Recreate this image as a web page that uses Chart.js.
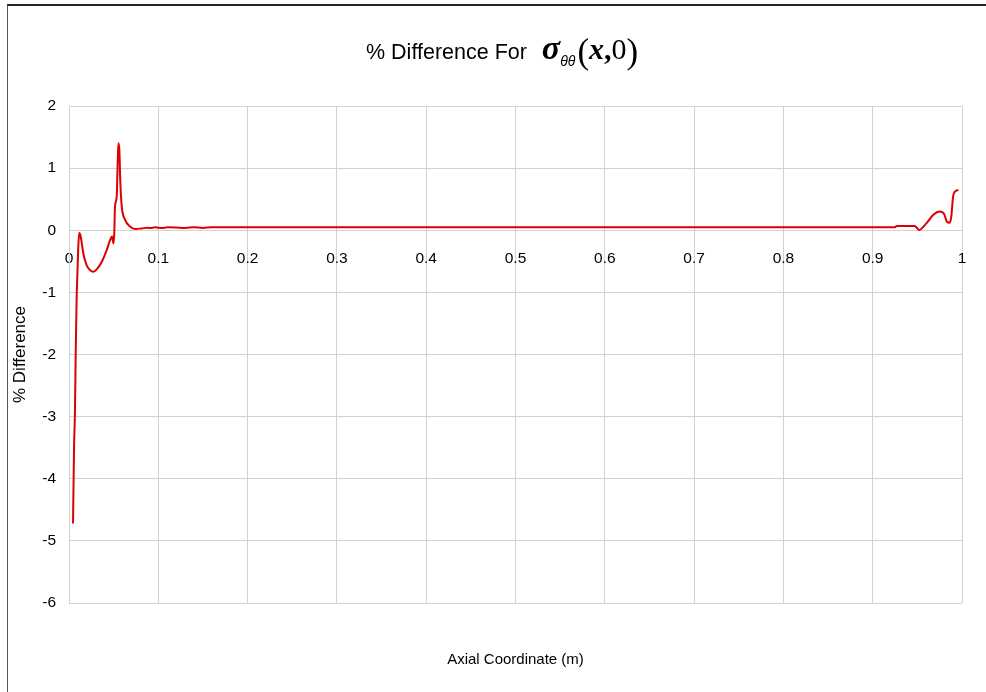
<!DOCTYPE html>
<html>
<head>
<meta charset="utf-8">
<script src="https://cdn.jsdelivr.net/npm/chart.js@4.4.1/dist/chart.umd.min.js"></script>
<style>
  html, body { margin: 0; padding: 0; background: #fff; }
  #wrap { position: relative; width: 986px; height: 692px; }
  #frame { position: absolute; left: 7px; top: 4px; right: 0; bottom: 0;
           border-left: 1px solid #555; border-top: 2px solid #222; pointer-events: none; }
</style>
</head>
<body>
<div id="wrap">
  <canvas id="diffChart" width="986" height="692"></canvas>
  <div id="frame"></div>
</div>
<script>
// % difference along the axial coordinate
var axialX = [0.0045, 0.0056, 0.0067, 0.0075, 0.0086, 0.0093, 0.0104, 0.0115, 0.0131, 0.016,
              0.0197, 0.0235, 0.0272, 0.031, 0.0366, 0.0422, 0.046, 0.0482, 0.0497, 0.0507,
              0.0515, 0.0534, 0.0545, 0.0553, 0.0564, 0.0575, 0.0591, 0.0627, 0.0683, 0.074,
              0.0814, 0.088, 0.092, 0.096, 0.10, 0.105, 0.11, 0.12, 0.13, 0.14,
              0.15, 0.16, 0.2, 0.3, 0.4, 0.5, 0.6, 0.7, 0.8, 0.9,
              0.925, 0.927, 0.947, 0.952, 0.96, 0.968, 0.975, 0.98, 0.983, 0.986,
              0.988, 0.99, 0.992, 0.996];
var pctDiff = [-4.72, -3.54, -2.89, -1.98, -1.07, -0.75, -0.26, -0.04, -0.10, -0.37,
               -0.56, -0.64, -0.67, -0.63, -0.51, -0.32, -0.16, -0.10, -0.21, -0.05,
               0.38, 0.54, 1.08, 1.40, 1.29, 0.76, 0.38, 0.17, 0.06, 0.02,
               0.03, 0.04, 0.035, 0.05, 0.04, 0.035, 0.05, 0.045, 0.035, 0.05,
               0.035, 0.05, 0.05, 0.05, 0.05, 0.05, 0.05, 0.05, 0.05, 0.05,
               0.05, 0.07, 0.07, 0.005, 0.11, 0.25, 0.30, 0.26, 0.14, 0.12,
               0.22, 0.54, 0.62, 0.65];
var xTickLabels = ["0", "0.1", "0.2", "0.3", "0.4", "0.5", "0.6", "0.7", "0.8", "0.9", "1"];
var yTickLabels = ["-6", "-5", "-4", "-3", "-2", "-1", "0", "1", "2"];

var points = axialX.map(function (x, i) { return { x: x, y: pctDiff[i] }; });
var gridGray = '#d2d2d2';
var sans = '"Liberation Sans", Arial, sans-serif';

// title with the sigma_theta-theta(x,0) math part
var titlePlugin = {
  id: 'mathTitle',
  afterDraw: function (chart) {
    var c = chart.ctx;
    c.save();
    c.fillStyle = '#000';
    c.textBaseline = 'alphabetic';
    var x = 366, base = 59;
    function put(txt, font, dy) {
      c.font = font;
      c.fillText(txt, x, base + (dy || 0));
      x += c.measureText(txt).width;
    }
    put('% Difference For  ', '21.5px ' + sans);
    x += 3;
    put('\u03C3', 'italic bold 34px "Liberation Serif", serif');
    put('\u03B8\u03B8', 'italic 14px ' + sans, 7);
    x += 2;
    put('(', '35px "Liberation Serif", serif', 4);
    put('x', 'italic bold 30px "Liberation Serif", serif');
    put(',', 'bold 30px "Liberation Serif", serif');
    put('0', '30px "Liberation Serif", serif');
    put(')', '35px "Liberation Serif", serif', 4);
    c.restore();
  }
};

var ctx = document.getElementById('diffChart').getContext('2d');
var chart = new Chart(ctx, {
  type: 'line',
  data: {
    datasets: [{
      label: '% Difference',
      data: points,
      borderColor: '#dd0000',
      borderWidth: 2,
      pointRadius: 0,
      fill: false,
      cubicInterpolationMode: 'monotone'
    }]
  },
  options: {
    responsive: false,
    animation: false,
    devicePixelRatio: 1,
    layout: { padding: { top: 106, right: 24, bottom: 0, left: 0 } },
    plugins: { legend: { display: false }, title: { display: false }, tooltip: { enabled: false } },
    scales: {
      x: {
        type: 'linear', position: 'bottom', min: 0, max: 1,
        ticks: { display: false, stepSize: 0.1 },
        grid: { color: gridGray, drawTicks: false },
        border: { display: false },
        title: { display: true, text: 'Axial Coordinate (m)', color: '#000',
                 font: { family: sans, size: 15 }, padding: { top: 0, bottom: 23 } },
        afterFit: function (s) { s.height = 89; }
      },
      x2: {
        type: 'linear', position: { y: 0 }, min: 0, max: 1,
        ticks: { stepSize: 0.1, color: '#000', font: { family: sans, size: 15.5 }, padding: 19,
                 maxRotation: 0,
                 callback: function (v, i) { return xTickLabels[i]; } },
        grid: { display: false, drawTicks: false },
        border: { display: false }
      },
      y: {
        type: 'linear', min: -6, max: 2,
        ticks: { stepSize: 1, color: '#000', font: { family: sans, size: 15.5 }, padding: 13,
                 callback: function (v, i) { return yTickLabels[i]; } },
        grid: { color: gridGray, drawTicks: false },
        border: { color: gridGray },
        title: { display: true, text: '% Difference', color: '#000',
                 font: { family: sans, size: 17 }, padding: { top: 10, bottom: 0 } },
        afterFit: function (s) { s.width = 69; }
      }
    }
  },
  plugins: [titlePlugin]
});
</script>
</body>
</html>
